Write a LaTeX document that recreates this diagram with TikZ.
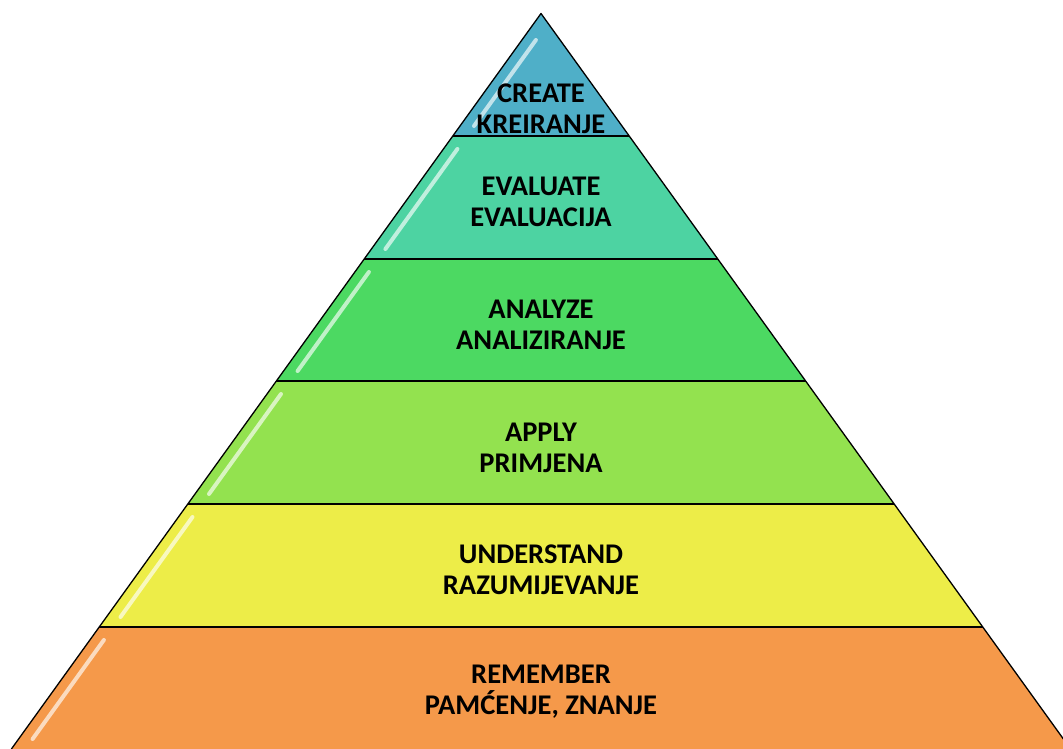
\documentclass[tikz,border=0pt]{standalone}
\usepackage{fontspec}
\setmainfont{Carlito}
\definecolor{createcol}{HTML}{4FAFC8}
\definecolor{evaluatecol}{HTML}{4DD3A2}
\definecolor{analyzecol}{HTML}{4CD962}
\definecolor{applycol}{HTML}{93E24F}
\definecolor{understandcol}{HTML}{EDED48}
\definecolor{remembercol}{HTML}{F5994A}
\begin{document}
\begin{tikzpicture}[x=1pt,y=-1pt,
  edge/.style={black, line width=1.3pt, line join=round},
  label/.style={font=\fontsize{28.5}{31}\selectfont\bfseries, align=center, text=black},
  gloss/.style={white, line width=4pt, line cap=round, opacity=0.65}]
\useasboundingbox (0,0) rectangle (1063,749);
\clip (0,0) rectangle (1063,749);
\coordinate (top) at (541,13.5);
\coordinate (l1) at (452.8,136); \coordinate (r1) at (629.2,136);
\coordinate (l2) at (364.2,259); \coordinate (r2) at (717.8,259);
\coordinate (l3) at (276.4,381); \coordinate (r3) at (805.6,381);
\coordinate (l4) at (187.8,504); \coordinate (r4) at (894.2,504);
\coordinate (l5) at (99.3,627);  \coordinate (r5) at (982.7,627);
\coordinate (l6) at (11.4,749);  \coordinate (r6) at (1070.6,749);
\fill[createcol] (top) -- (r1) -- (l1) -- cycle;
\fill[evaluatecol] (l1) -- (r1) -- (r2) -- (l2) -- cycle;
\fill[analyzecol] (l2) -- (r2) -- (r3) -- (l3) -- cycle;
\fill[applycol] (l3) -- (r3) -- (r4) -- (l4) -- cycle;
\fill[understandcol] (l4) -- (r4) -- (r5) -- (l5) -- cycle;
\fill[remembercol] (l5) -- (r5) -- (r6) -- (l6) -- cycle;
\draw[gloss] (535.9,40) -- (474,126);
\draw[gloss] (457.4,149) -- (385.4,249);
\draw[gloss] (368.9,272) -- (297.6,371);
\draw[gloss] (281.0,394) -- (209.0,494);
\draw[gloss] (192.5,517) -- (120.5,617);
\draw[gloss] (103.9,640) -- (32.6,739);
\draw[edge] (l6) -- (top) -- (r6);
\draw[edge] (l1) -- (r1);
\draw[edge] (l2) -- (r2);
\draw[edge] (l3) -- (r3);
\draw[edge] (l4) -- (r4);
\draw[edge] (l5) -- (r5);
\node[label] (create) at (541,108.5) {CREATE\\KREIRANJE};
\node[label] (evaluate) at (541,202) {EVALUATE\\EVALUACIJA};
\node[label] (analyze) at (541,324.5) {ANALYZE\\ANALIZIRANJE};
\node[label] (apply) at (541,448) {APPLY\\PRIMJENA};
\node[label] (understand) at (541,569.5) {UNDERSTAND\\RAZUMIJEVANJE};
\node[label] (remember) at (541,692) {REMEMBER\\PAMĆENJE, ZNANJE};
\end{tikzpicture}
\end{document}
